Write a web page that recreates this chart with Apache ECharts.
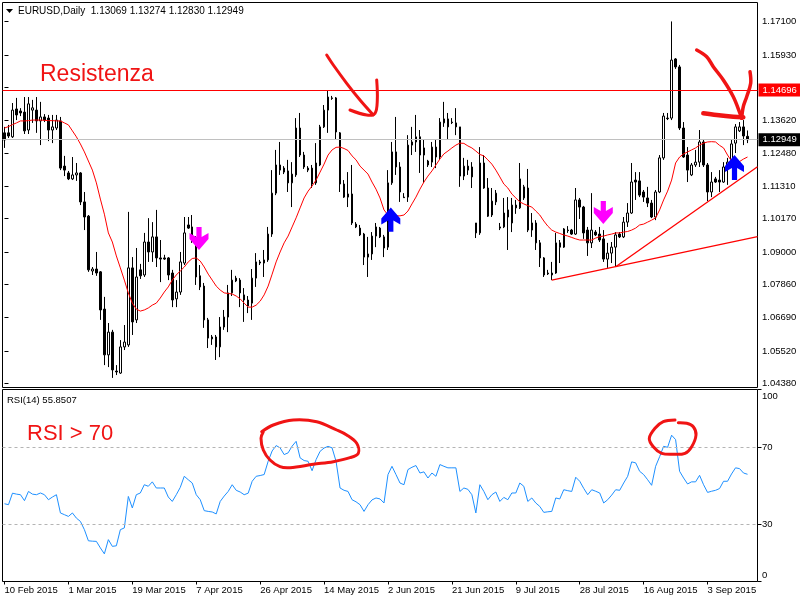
<!DOCTYPE html>
<html><head><meta charset="utf-8">
<script src="https://cdn.jsdelivr.net/npm/echarts@6/dist/echarts.min.js"></script>
<style>html,body{margin:0;padding:0;background:#fff}#c{width:800px;height:600px}</style>
</head><body><div id="c"></div>
<script>
// ---------------- data ----------------
const symbolTitle = 'EURUSD,Daily';
const xTickLabels = ['10 Feb 2015','1 Mar 2015','19 Mar 2015','7 Apr 2015','26 Apr 2015','14 May 2015','2 Jun 2015','21 Jun 2015','9 Jul 2015','28 Jul 2015','16 Aug 2015','3 Sep 2015'];
const barsPerLabel = 16;
const slots = 189; // bar slots incl. right margin

const opens = [1.1319,1.1319,1.1305,1.1403,1.1396,1.1392,1.1329,1.1399,1.1399,1.1361,
1.1375,1.1371,1.1329,1.1336,1.1361,1.1202,1.1178,1.1157,1.1171,1.1178,
1.1076,1.1026,1.0833,1.0840,1.0830,1.0699,1.0538,1.0618,1.0481,1.0474,
1.0566,1.0573,1.0844,1.0661,1.0837,1.0819,1.0935,1.0900,1.0953,1.0879,
1.0879,1.0879,1.0826,1.0735,1.0759,1.0861,1.0995,1.0988,1.0939,1.0816,
1.0780,1.0661,1.0594,1.0601,1.0566,1.0636,1.0671,1.0756,1.0808,1.0801,
1.0749,1.0731,1.0720,1.0808,1.0861,1.0861,1.0872,1.0963,1.1107,1.1206,
1.1195,1.1185,1.1143,1.1171,1.1336,1.1241,1.1195,1.1195,1.1143,1.1206,
1.1340,1.1399,1.1442,1.1442,1.1319,1.1139,1.1093,1.1104,1.0998,1.0984,
1.0963,1.0882,1.0893,1.0956,1.0984,1.0953,1.0917,1.1143,1.1252,1.1199,
1.1093,1.1093,1.1276,1.1287,1.1305,1.1241,1.1206,1.1216,1.1269,1.1234,
1.1354,1.1368,1.1357,1.1354,1.1340,1.1167,1.1202,1.1199,1.1002,1.0967,
1.1213,1.1125,1.1030,1.1076,1.0988,1.0988,1.1048,1.1002,1.1065,1.1055,
1.1090,1.1125,1.0977,1.1002,1.0932,1.0879,1.0826,1.0819,1.0826,1.0932,
1.0917,1.0977,1.0977,1.0963,1.1083,1.1058,1.0977,1.0932,1.0970,1.0963,
1.0946,1.0875,1.0896,1.0917,1.0963,1.0953,1.1005,1.1037,1.1153,1.1150,
1.1111,1.1090,1.1072,1.1023,1.1111,1.1231,1.1371,1.1371,1.1579,1.1551,
1.1336,1.1241,1.1171,1.1206,1.1216,1.1287,1.1206,1.1111,1.1157,1.1153,
1.1146,1.1199,1.1213,1.1283,1.1326,1.1340,1.13069];

const closes = [1.1294,1.1308,1.1399,1.1382,1.1389,1.1326,1.1421,1.1407,1.1361,1.1375,
1.1364,1.1329,1.1340,1.1364,1.1195,1.1188,1.1157,1.1171,1.1178,1.1076,
1.1023,1.0837,1.0840,1.0826,1.0696,1.0538,1.0618,1.0485,1.0478,1.0566,
1.0583,1.0844,1.0654,1.0812,1.0816,1.0935,1.0900,1.0953,1.0879,1.0875,
1.0875,1.0819,1.0731,1.0759,1.0865,1.0967,1.0984,1.0942,1.0812,1.0777,
1.0661,1.0597,1.0601,1.0566,1.0636,1.0671,1.0756,1.0801,1.0798,1.0756,
1.0731,1.0710,1.0808,1.0865,1.0865,1.0872,1.0963,1.1107,1.1206,1.1188,
1.1181,1.1143,1.1174,1.1336,1.1241,1.1199,1.1188,1.1139,1.1213,1.1340,
1.1399,1.1445,1.1440,1.1322,1.1139,1.1093,1.1104,1.1002,1.0988,1.0960,
1.0882,1.0893,1.0956,1.0988,1.0953,1.0914,1.1143,1.1252,1.1199,1.1111,
1.1091,1.1276,1.1287,1.1305,1.1241,1.1266,1.1220,1.1269,1.1234,1.1357,
1.1368,1.1340,1.1355,1.1340,1.1167,1.1202,1.1188,1.1164,1.0967,1.1213,
1.1125,1.1026,1.1079,1.1107,1.0984,1.1037,1.1023,1.1065,1.1055,1.1157,
1.1129,1.0977,1.1002,1.0932,1.0879,1.0819,1.0823,1.0826,1.0932,1.0917,
1.0981,1.0975,1.0963,1.1083,1.1058,1.0967,1.0932,1.0977,1.0960,1.0942,
1.0875,1.0896,1.0917,1.0960,1.0953,1.1005,1.1037,1.1146,1.1146,1.1100,
1.1093,1.1072,1.1023,1.1111,1.1231,1.1378,1.1369,1.1575,1.1551,1.1336,
1.1234,1.1188,1.1206,1.1216,1.1287,1.1206,1.1111,1.1146,1.1146,1.1146,
1.1199,1.1216,1.1280,1.1340,1.1340,1.1308,1.12949];

const highs = [1.1340,1.1347,1.1424,1.1442,1.1406,1.1445,1.1445,1.1435,1.1445,1.1428,
1.1385,1.1382,1.1382,1.1382,1.1375,1.1238,1.1185,1.1234,1.1213,1.1181,
1.1111,1.1030,1.0847,1.0900,1.0833,1.0742,1.0650,1.0626,1.0502,1.0590,
1.0643,1.1041,1.0882,1.0914,1.0858,1.0967,1.1019,1.1005,1.1048,1.0942,
1.0890,1.0882,1.0837,1.0801,1.0900,1.1023,1.1023,1.1030,1.0956,1.0854,
1.0791,1.0668,1.0608,1.0608,1.0671,1.0696,1.0784,1.0837,1.0816,1.0808,
1.0773,1.0745,1.0840,1.0896,1.0872,1.0907,1.0988,1.1188,1.1259,1.1287,
1.1202,1.1224,1.1216,1.1371,1.1389,1.1252,1.1202,1.1206,1.1283,1.1347,
1.1417,1.1467,1.1449,1.1445,1.1322,1.1153,1.1181,1.1206,1.1005,1.0995,
1.0967,1.0953,1.0970,1.1002,1.0988,1.0960,1.1188,1.1287,1.1375,1.1216,
1.1107,1.1311,1.1340,1.1382,1.1329,1.1294,1.1224,1.1287,1.1294,1.1371,
1.1428,1.1389,1.1371,1.1406,1.1340,1.1231,1.1224,1.1216,1.1002,1.1269,
1.1241,1.1160,1.1125,1.1118,1.1002,1.1090,1.1093,1.1090,1.1083,1.1213,
1.1136,1.1192,1.1037,1.1012,1.0942,1.0882,1.0837,1.0865,1.0967,1.0942,
1.0984,1.0991,1.0981,1.1125,1.1090,1.1062,1.0988,1.1107,1.0977,1.0988,
1.0977,1.0932,1.0935,1.0970,1.0970,1.1023,1.1072,1.1213,1.1181,1.1181,
1.1118,1.1129,1.1083,1.1118,1.1241,1.1389,1.1389,1.1711,1.1582,1.1558,
1.1357,1.1269,1.1213,1.1259,1.1329,1.1294,1.1213,1.1181,1.1164,1.1188,
1.1216,1.1231,1.1294,1.1350,1.1357,1.1364,1.13274];

const lows = [1.1266,1.1301,1.1301,1.1364,1.1378,1.1315,1.1315,1.1354,1.1319,1.1276,
1.1357,1.1290,1.1283,1.1329,1.1188,1.1167,1.1153,1.1153,1.1150,1.1065,
1.0977,1.0830,1.0819,1.0816,1.0661,1.0502,1.0495,1.0457,1.0467,1.0471,
1.0555,1.0566,1.0608,1.0650,1.0805,1.0812,1.0865,1.0865,1.0847,1.0794,
1.0872,1.0801,1.0706,1.0706,1.0749,1.0854,1.0981,1.0932,1.0784,1.0766,
1.0633,1.0562,1.0573,1.0520,1.0530,1.0626,1.0618,1.0745,1.0794,1.0706,
1.0654,1.0685,1.0661,1.0777,1.0854,1.0812,1.0865,1.0953,1.1100,1.1171,
1.1174,1.1111,1.1058,1.1164,1.1234,1.1192,1.1181,1.1125,1.1136,1.1202,
1.1336,1.1319,1.1435,1.1294,1.1111,1.1090,1.1058,1.0995,1.0984,1.0956,
1.0854,1.0812,1.0872,1.0917,1.0949,1.0882,1.0907,1.1136,1.1171,1.1076,
1.1090,1.1076,1.1241,1.1252,1.1178,1.1143,1.1199,1.1199,1.1195,1.1224,
1.1340,1.1294,1.1350,1.1311,1.1129,1.1153,1.1171,1.1125,1.0949,1.0960,
1.1122,1.1023,1.1023,1.1065,1.0977,1.0984,1.0907,1.0970,1.1034,1.1051,
1.1083,1.0970,1.0953,1.0907,1.0847,1.0812,1.0819,1.0801,1.0823,1.0861,
1.0914,1.0967,1.0960,1.0960,1.1016,1.0946,1.0886,1.0914,1.0956,1.0935,
1.0865,1.0844,1.0861,1.0847,1.0949,1.0949,1.0988,1.1034,1.1083,1.1093,
1.1076,1.1058,1.1019,1.1012,1.1107,1.1224,1.1364,1.1364,1.1544,1.1329,
1.1231,1.1146,1.1167,1.1199,1.1199,1.1199,1.1079,1.1093,1.1143,1.1111,
1.1143,1.1136,1.1206,1.1248,1.1322,1.1276,1.12830];

const maValues = [1.1336,1.1341,1.1348,1.1354,1.1361,1.1361,1.1362,1.1364,1.1364,1.1364,
1.1363,1.1362,1.1362,1.1361,1.1361,1.1354,1.1347,1.1326,1.1305,1.1280,
1.1252,1.1220,1.1188,1.1143,1.1086,1.1033,1.0967,1.0935,1.0886,1.0844,
1.0801,1.0756,1.0720,1.0699,1.0692,1.0696,1.0703,1.0713,1.0720,1.0738,
1.0759,1.0777,1.0801,1.0819,1.0833,1.0847,1.0865,1.0877,1.0879,1.0868,
1.0847,1.0822,1.0801,1.0780,1.0766,1.0756,1.0754,1.0752,1.0745,1.0735,
1.0720,1.0706,1.0706,1.0713,1.0727,1.0749,1.0780,1.0822,1.0865,1.0900,
1.0932,1.0956,1.0988,1.1020,1.1055,1.1090,1.1114,1.1132,1.1153,1.1181,
1.1209,1.1241,1.1259,1.1268,1.1269,1.1264,1.1257,1.1238,1.1224,1.1202,
1.1188,1.1174,1.1146,1.1121,1.1090,1.1048,1.1030,1.1027,1.1027,1.1027,
1.1030,1.1044,1.1069,1.1093,1.1121,1.1146,1.1167,1.1185,1.1206,1.1227,
1.1245,1.1255,1.1266,1.1276,1.1283,1.1282,1.1273,1.1266,1.1255,1.1243,
1.1238,1.1224,1.1209,1.1188,1.1164,1.1139,1.1125,1.1104,1.1090,1.1076,
1.1069,1.1063,1.1058,1.1044,1.1030,1.1009,1.0991,1.0977,1.0970,1.0965,
1.0960,1.0956,1.0951,1.0946,1.0942,1.0942,1.0942,1.0942,1.0949,1.0954,
1.0956,1.0960,1.0963,1.0967,1.0967,1.0970,1.0972,1.0977,1.0984,1.0995,
1.0998,1.1005,1.1012,1.1020,1.1048,1.1083,1.1114,1.1153,1.1213,1.1234,
1.1245,1.1252,1.1259,1.1266,1.1276,1.1283,1.1287,1.1288,1.1287,1.1275,
1.1266,1.1241,1.1220,1.1213,1.1218,1.1227,1.1234];

const rsiValues = [40.5,40.0,46.0,45.5,45.2,42.1,46.9,45.5,45.2,46.1,
45.2,42.6,44.0,45.2,35.7,34.8,33.9,35.7,33.0,31.3,
27.0,21.2,21.0,20.9,17.5,14.4,21.8,18.3,18.6,27.0,
27.9,44.3,38.3,45.2,46.1,50.4,49.6,51.9,48.7,48.7,
48.7,44.0,41.7,45.2,49.0,54.8,53.0,51.3,45.2,42.6,
36.9,36.5,36.2,35.2,41.7,44.5,46.9,50.4,47.5,46.6,
45.2,46.0,52.2,54.8,55.2,55.7,62.6,68.0,70.8,69.6,
66.1,67.0,70.5,73.0,64.4,63.0,62.6,57.7,63.5,67.8,
69.5,70.4,69.6,62.6,48.7,47.5,46.9,42.6,41.5,40.0,
36.5,40.0,42.5,43.5,43.0,40.9,55.7,60.0,55.7,51.3,
50.4,58.3,59.5,60.4,56.5,57.1,53.9,56.5,54.8,60.9,
60.0,59.2,59.2,59.2,46.9,48.7,48.0,45.2,35.7,50.4,
46.9,42.6,45.2,46.6,41.7,43.8,42.6,46.1,46.1,51.3,
49.6,41.7,43.5,40.9,39.1,36.0,36.3,36.5,43.5,43.0,
47.8,47.3,46.9,54.3,52.2,48.5,45.2,47.8,47.0,46.1,
40.9,42.6,45.0,47.8,47.5,51.3,54.8,62.3,61.8,57.4,
55.7,53.0,50.1,60.0,65.0,70.4,69.9,76.2,73.9,57.4,
53.9,50.8,51.9,51.9,55.3,50.4,46.4,47.0,47.5,48.4,
52.2,52.2,56.0,59.2,58.8,56.5,55.8507];

const priceTicks = [1.0438,1.0552,1.0669,1.0786,1.0900,1.1017,1.1131,1.1248,1.1362,1.1479,1.1593,1.1710];
const rsiTicks = [0,30,70,100];
const rsiLevels = [70,30];
const resistanceLevel = 1.14696;
const lastPrice = 1.12949;
const priceMin = 1.04232, priceMax = 1.17776;
// trend lines: [barIndex, price]
const trendLow = [[137,1.0801],[188.5,1.0954]];
const trendHigh = [[153,1.0848],[188.5,1.1200]];

// ---------------- chart ----------------
const FONT = 'Liberation Sans';
const RED = '#f01414';
const chart = echarts.init(document.getElementById('c'), null, {renderer:'canvas', width:800, height:600});
const cats = Array.from({length: slots}, (_, i) => i);
const candles = opens.map((o, i) => [o, closes[i], lows[i], highs[i]]);
const last = opens.length - 1;

function downArrow(cx, ty, by, color){
  const sw = 2.6, hw = 9.5;
  return {type:'polygon', z:100, shape:{points:[[cx-sw,ty],[cx+sw,ty],[cx+sw,by-13],[cx+hw,by-17],[cx+hw,by-11],[cx,by],[cx-hw,by-11],[cx-hw,by-17],[cx-sw,by-13]]}, style:{fill:color}};
}
function upArrow(cx, ty, by, color){
  const sw = 2.6, hw = 9.5;
  return {type:'polygon', z:100, shape:{points:[[cx,ty],[cx+hw,ty+11],[cx+hw,ty+17],[cx+sw,ty+13],[cx+sw,by],[cx-sw,by],[cx-sw,ty+13],[cx-hw,ty+17],[cx-hw,ty+11]]}, style:{fill:color}};
}
function scribble(points, w){
  return {type:'polyline', z:100, shape:{points: points, smooth:0.35}, style:{stroke:RED, lineWidth:w||3, fill:null, lineCap:'round', lineJoin:'round'}};
}
function tag(value, bg){
  return {show:true, position:'end', distance:1, formatter:value.toFixed(5), color:'#fff', backgroundColor:bg, padding:[2,4,1,4], fontFamily:FONT, fontSize:9.5};
}

const option = {
  animation:false,
  backgroundColor:'#ffffff',
  grid:[
    {left:2.5, top:2.5, width:755, height:385, show:true, borderColor:'#000', borderWidth:1},
    {left:2.5, top:389.5, width:755, height:192, show:true, borderColor:'#000', borderWidth:1}
  ],
  xAxis:[
    {type:'category', gridIndex:0, data:cats, boundaryGap:true, axisLine:{show:false}, axisTick:{show:false}, axisLabel:{show:false}, splitLine:{show:false}},
    {type:'category', gridIndex:1, data:cats, boundaryGap:true, axisLine:{show:false},
      axisTick:{show:true, alignWithLabel:true, interval:barsPerLabel-1, length:3, lineStyle:{color:'#000'}},
      axisLabel:{show:true, interval:barsPerLabel-1, align:'left', margin:4, color:'#000', fontFamily:FONT, fontSize:9.5,
        formatter:(v, idx) => (idx % barsPerLabel === 0 && xTickLabels[idx/barsPerLabel]) ? xTickLabels[idx/barsPerLabel] : ''},
      splitLine:{show:false}},
    {type:'value', gridIndex:0, min:-0.5, max:slots-0.5, show:false}
  ],
  yAxis:[
    {type:'value', gridIndex:0, position:'right', min:priceMin, max:priceMax, splitLine:{show:false}, axisLine:{show:false},
      axisTick:{show:true, length:4, customValues:priceTicks, lineStyle:{color:'#000'}},
      axisLabel:{show:true, customValues:priceTicks, margin:4.5, color:'#000', fontFamily:FONT, fontSize:9.5, formatter:v => v.toFixed(5)}},
    {type:'value', gridIndex:1, position:'right', min:0, max:100, splitLine:{show:false}, axisLine:{show:false},
      axisTick:{show:true, length:4, customValues:rsiTicks, lineStyle:{color:'#000'}},
      axisLabel:{show:true, customValues:rsiTicks, margin:4.5, color:'#000', fontFamily:FONT, fontSize:9.5,
        formatter:v => v === 100 ? '{t|100}' : (v === 0 ? '{b|0}' : String(v)),
        rich:{t:{padding:[14,0,0,0], fontFamily:FONT, fontSize:9.5, color:'#000'}, b:{padding:[0,0,12,0], fontFamily:FONT, fontSize:9.5, color:'#000'}}}}
  ],
  series:[
    {type:'candlestick', xAxisIndex:0, yAxisIndex:0, data:candles, barWidth:2,
      itemStyle:{color:'#ffffff', color0:'#000000', borderColor:'#000000', borderColor0:'#000000', borderWidth:1}},
    {type:'line', xAxisIndex:0, yAxisIndex:0, data:maValues, symbol:'none', itemStyle:{color:'#ff0000'}, lineStyle:{color:'#ff0000', width:1}, z:3,
      markLine:{silent:true, symbol:'none', animation:false, precision:5,
        data:[
          {yAxis:lastPrice, lineStyle:{color:'#c0c0c0', width:1, type:'solid'}, label:tag(lastPrice, '#000000')},
          {yAxis:resistanceLevel, lineStyle:{color:'#ff0000', width:1, type:'solid'}, label:tag(resistanceLevel, '#ff0000')}
        ]}},
    {type:'line', xAxisIndex:2, yAxisIndex:0, data:trendLow, symbol:'none', lineStyle:{color:'#ff0000', width:1.3}, z:4},
    {type:'line', xAxisIndex:2, yAxisIndex:0, data:trendHigh, symbol:'none', lineStyle:{color:'#ff0000', width:1.3}, z:4},
    {type:'line', xAxisIndex:1, yAxisIndex:1, data:rsiValues, symbol:'none', itemStyle:{color:'#1e90ff'}, lineStyle:{color:'#1e90ff', width:1}, z:3,
      markLine:{silent:true, symbol:'none', animation:false, precision:2, label:{show:false},
        lineStyle:{color:'#b4b4b4', width:1, type:[3,3]},
        data: rsiLevels.map(v => ({yAxis:v}))}}
  ],
  graphic:[
    {type:'polygon', shape:{points:[[6,9],[13,9],[9.5,13]]}, style:{fill:'#000'}},
    {type:'text', x:18, y:11, style:{text: symbolTitle + '  ' + [opens[last], highs[last], lows[last], closes[last]].map(v => v.toFixed(5)).join(' '),
      font:'10px "Liberation Sans"', fill:'#000', verticalAlign:'middle', textVerticalAlign:'middle'}},
    {type:'text', x:7, y:400, style:{text:'RSI(14) ' + rsiValues[last].toFixed(4), font:'9.5px "Liberation Sans"', fill:'#000', verticalAlign:'middle', textVerticalAlign:'middle'}},
    {type:'text', x:40, y:75, z:100, style:{text:'Resistenza', font:'23px "Liberation Sans"', fill:RED, verticalAlign:'middle', textVerticalAlign:'middle'}},
    {type:'text', x:27, y:434, z:100, style:{text:'RSI > 70', font:'22px "Liberation Sans"', fill:RED, verticalAlign:'middle', textVerticalAlign:'middle'}},
    scribble([[326.7,55],[333.3,65],[346.7,83.3],[360,100],[373.3,115]], 3),
    scribble([[376.7,80],[377.3,100],[375,113.3],[366.7,115],[350,110]], 3),
    scribble([[696.7,50],[706.7,56.7],[713.3,66.7],[723.3,80],[733.3,96.7],[740,113.3],[741.7,118.3]], 3.5),
    scribble([[750,71.7],[750.7,83.3],[746.7,96.7],[743.3,106.7],[741.7,118.3]], 3.5),
    scribble([[703.3,113.3],[716.7,115],[733.3,116.7],[743.3,117.3]], 4.5),
    scribble([[261.7,431.7],[273.3,425],[293.3,420],[316.7,421.7],[336.7,430],[346.7,435],[356.7,443.3],[358.3,453.3],[350,457.7],[333.3,461.7],[313.3,464.3],[290,467.7],[280,466.7],[270,460],[263.3,450],[261,438.3],[263.3,431.7]], 3),
    scribble([[675,420],[663.3,421.7],[655,428.3],[649.3,438.3],[653.3,446.7],[661.7,453.3],[673.3,454.3],[685,453.3],[691.7,446.7],[696,435],[693.3,426.7],[686.7,423.3],[678.3,422.7]], 3),
    downArrow(199, 227, 250, '#ff00ff'),
    downArrow(603.3, 201, 224, '#ff00ff'),
    upArrow(390.8, 207.5, 231.7, '#0000ff'),
    upArrow(734.5, 155, 180, '#0000ff')
  ]
};
chart.setOption(option);
</script>
</body></html>
